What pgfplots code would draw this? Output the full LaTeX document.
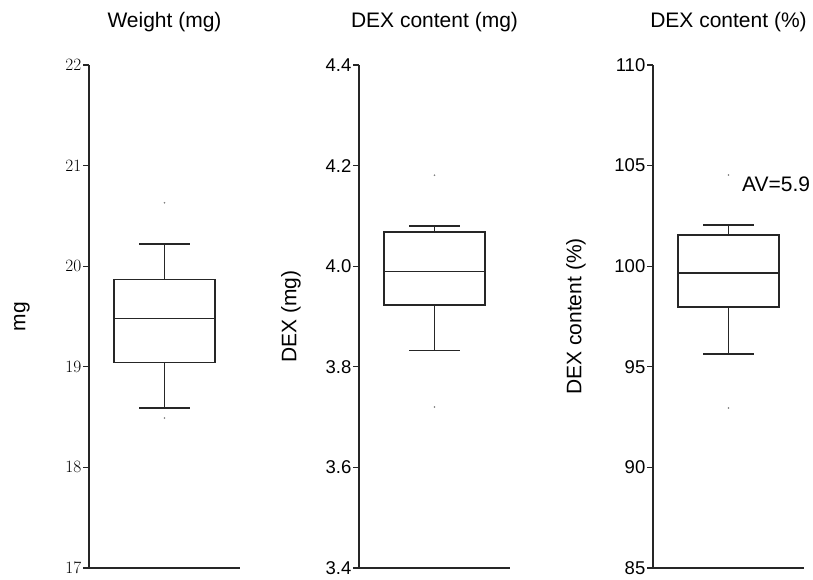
\documentclass[border=0pt]{standalone}
\usepackage[no-math]{fontspec}
\setmainfont{Liberation Sans}
\usepackage{pgfplots}
\pgfplotsset{compat=1.18}
\definecolor{ln}{HTML}{262626}
\pgfplotsset{
 panel/.style={
  scale only axis, width=151pt, height=503pt,
  xmin=0, xmax=3, xtick=\empty,
  axis x line*=bottom, axis y line*=left,
  axis line style={-, line width=1.3pt, color=ln},
  ytick pos=left, tick align=outside, major tick length=6pt,
  every tick/.style={line width=1.1pt, color=ln},
  tick label style={font=\fontsize{18.5}{20}\selectfont},
  yticklabel style={inner xsep=1.5pt},
  title style={font=\fontsize{21}{23}\selectfont, at={(axis description cs:0.5,1)}, anchor=base, yshift=31pt},
  ylabel style={font=\fontsize{21}{23}\selectfont, at={(axis description cs:0,0.5)}, anchor=center},
  clip=false,
 },
 bxl/.style={color=ln, line width=1.4pt, solid, no marks, line join=miter},
 outl/.style={only marks, mark=*, mark size=0.6pt, color=gray},
}
\begin{document}
\begin{tikzpicture}
\useasboundingbox (0,0) rectangle (813pt,579pt);
% Panel 1: Weight
\begin{axis}[panel, at={(89pt,11pt)}, anchor=south west,
  ymin=17, ymax=22, ytick={17,18,...,22},
  title={Weight (mg)}, ylabel={mg}, ylabel style={yshift=67pt}]
\addplot[bxl] coordinates {(0.5,19.04) (2.5,19.04) (2.5,19.87) (0.5,19.87)} -- cycle;
\addplot[bxl] coordinates {(0.5,19.48) (2.5,19.48)};
\addplot[bxl] coordinates {(1.5,19.87) (1.5,20.22)};
\addplot[bxl] coordinates {(1,20.22) (2,20.22)};
\addplot[bxl] coordinates {(1.5,19.04) (1.5,18.59)};
\addplot[bxl] coordinates {(1,18.59) (2,18.59)};
\addplot[outl] coordinates {(1.5,20.63) (1.5,18.49)};
\end{axis}
% Panel 2: DEX content (mg)
\begin{axis}[panel, at={(359pt,11pt)}, anchor=south west,
  ymin=3.4, ymax=4.4, ytick={3.4,3.6,3.8,4.0,4.2,4.4},
  /pgf/number format/assume math mode=true,
  yticklabel style={/pgf/number format/.cd, fixed, fixed zerofill, precision=1},
  title={DEX content (mg)}, ylabel={DEX (mg)}, ylabel style={yshift=68pt}]
\addplot[bxl] coordinates {(0.5,3.923) (2.5,3.923) (2.5,4.068) (0.5,4.068)} -- cycle;
\addplot[bxl] coordinates {(0.5,3.990) (2.5,3.990)};
\addplot[bxl] coordinates {(1.5,4.068) (1.5,4.080)};
\addplot[bxl] coordinates {(1,4.080) (2,4.080)};
\addplot[bxl] coordinates {(1.5,3.923) (1.5,3.833)};
\addplot[bxl] coordinates {(1,3.833) (2,3.833)};
\addplot[outl] coordinates {(1.5,4.181) (1.5,3.720)};
\end{axis}
% Panel 3: DEX content (%)
\begin{axis}[panel, at={(653pt,11pt)}, anchor=south west,
  ymin=85, ymax=110, ytick={85,90,...,110},
  /pgf/number format/assume math mode=true,
  title={DEX content (\%)}, ylabel={DEX content (\%)}, ylabel style={yshift=77pt}]
\addplot[bxl] coordinates {(0.5,97.97) (2.5,97.97) (2.5,101.55) (0.5,101.55)} -- cycle;
\addplot[bxl] coordinates {(0.5,99.66) (2.5,99.66)};
\addplot[bxl] coordinates {(1.5,101.55) (1.5,102.05)};
\addplot[bxl] coordinates {(1,102.05) (2,102.05)};
\addplot[bxl] coordinates {(1.5,97.97) (1.5,95.64)};
\addplot[bxl] coordinates {(1,95.64) (2,95.64)};
\addplot[outl] coordinates {(1.5,104.53) (1.5,92.95)};
\node[anchor=base west, font=\fontsize{21}{23}\selectfont, inner sep=0pt] at (axis cs:1.768,103.69) {AV=5.9};
\end{axis}
\end{tikzpicture}
\end{document}
